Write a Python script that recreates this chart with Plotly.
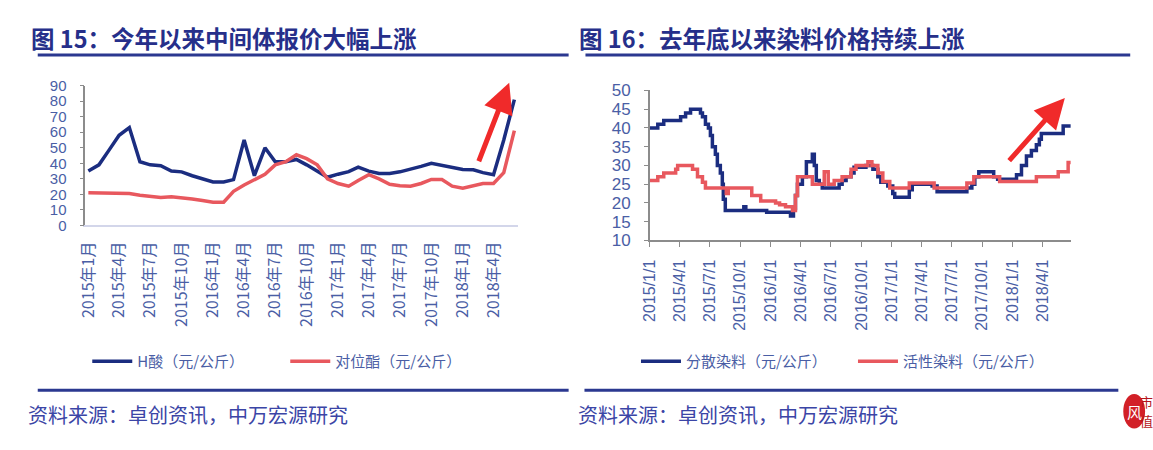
import plotly.graph_objects as go

W, H = 1153, 450
def px(x): return x / W
def py(y): return 1 - y / H

# ---------------- Data: left chart (monthly, 2015-01 .. 2018-06) ----------------
months = ["2015-01-01","2015-02-01","2015-03-01","2015-04-01","2015-05-01","2015-06-01",
          "2015-07-01","2015-08-01","2015-09-01","2015-10-01","2015-11-01","2015-12-01",
          "2016-01-01","2016-02-01","2016-03-01","2016-04-01","2016-05-01","2016-06-01",
          "2016-07-01","2016-08-01","2016-09-01","2016-10-01","2016-11-01","2016-12-01",
          "2017-01-01","2017-02-01","2017-03-01","2017-04-01","2017-05-01","2017-06-01",
          "2017-07-01","2017-08-01","2017-09-01","2017-10-01","2017-11-01","2017-12-01",
          "2018-01-01","2018-02-01","2018-03-01","2018-04-01","2018-05-01","2018-06-01"]
h_acid = [35, 39, 48, 58, 63, 41, 39, 38.5, 35, 34.5, 32, 30, 28, 28, 29.5, 55, 32, 50,
          41, 41, 42.5, 39, 35, 31, 33, 34.6, 37.5, 35, 33.5, 33.5, 34.5, 36, 38, 40,
          38.5, 37.5, 36, 35.8, 34, 32.7, 55, 81]
p_ester = [21, 21, 21, 20.8, 20.5, 19.5, 18.5, 18, 18.5, 18, 17, 16, 15, 15, 22, 26, 29.5, 33,
           39, 41, 45.5, 43, 39, 30, 27, 25.3, 29, 32.7, 30, 26.5, 25.5, 25.3, 27, 29.6,
           29.6, 25.3, 24, 25.5, 27, 27, 34, 61]
left_tickvals = ["2015-01-01","2015-04-01","2015-07-01","2015-10-01","2016-01-01","2016-04-01",
                 "2016-07-01","2016-10-01","2017-01-01","2017-04-01","2017-07-01","2017-10-01",
                 "2018-01-01","2018-04-01"]
left_ticktext = ["2015年1月","2015年4月","2015年7月","2015年10月","2016年1月","2016年4月",
                 "2016年7月","2016年10月","2017年1月","2017年4月","2017年7月","2017年10月",
                 "2018年1月","2018年4月"]

# ---------------- Data: right chart (step changes) ----------------
disperse_dates = ["2015-01-01","2015-01-25","2015-02-12","2015-04-04","2015-04-19","2015-05-04",
                  "2015-06-03","2015-06-09","2015-06-18","2015-06-27","2015-07-03","2015-07-09",
                  "2015-07-18","2015-07-24","2015-08-02","2015-08-08","2015-08-11","2015-08-17",
                  "2015-10-12","2015-10-18","2015-12-20","2016-03-01","2016-03-10","2016-03-16",
                  "2016-03-22","2016-04-06","2016-04-18","2016-05-06","2016-05-12","2016-05-18",
                  "2016-05-27","2016-06-05","2016-07-26","2016-08-04","2016-08-16","2016-08-31",
                  "2016-09-09","2016-10-15","2016-11-05","2016-11-20","2016-11-29","2016-12-20",
                  "2017-01-04","2017-01-10","2017-02-23","2017-03-04","2017-05-03","2017-05-18",
                  "2017-08-16","2017-08-31","2017-09-09","2017-09-21","2017-11-05","2017-11-17",
                  "2018-01-13","2018-01-28","2018-02-12","2018-02-27","2018-03-14","2018-03-23",
                  "2018-03-29","2018-06-03","2018-06-26"]
disperse_vals = [40, 41, 42, 43, 44, 45, 44, 43, 41, 40, 38, 35, 33, 30, 28, 25, 21, 18, 19, 18,
                 17.5, 16.5, 18.5, 22, 25, 27, 31, 33, 30, 26, 25, 24, 25, 26, 27, 28, 29.5, 30,
                 29, 27, 25.5, 24.5, 22.5, 21.5, 23.5, 25, 24.5, 23, 24, 25, 27, 28.3, 27, 26.3,
                 27.5, 30, 32.5, 34, 35.5, 37, 38.5, 40.5, 40.5]
reactive_dates = ["2015-01-01","2015-01-25","2015-02-12","2015-03-20","2015-03-26","2015-05-10",
                  "2015-05-25","2015-06-09","2015-06-18","2015-08-20","2015-08-26","2015-11-05",
                  "2015-12-02","2016-01-16","2016-01-28","2016-02-15","2016-03-07","2016-03-16",
                  "2016-03-22","2016-05-06","2016-06-11","2016-06-23","2016-07-11","2016-08-04",
                  "2016-08-31","2016-09-15","2016-10-21","2016-11-02","2016-11-20","2016-12-05",
                  "2016-12-26","2017-02-23","2017-05-09","2017-08-16","2017-09-06","2017-11-23",
                  "2018-03-14","2018-05-19","2018-06-18","2018-06-26"]
reactive_vals = [26, 27, 28, 29, 30, 29, 27, 25.5, 24, 22.5, 24, 22, 20.5, 20, 19.5, 19, 18, 22,
                 27, 25, 28.3, 25, 26, 27, 29, 30, 31, 30, 28, 25.7, 24, 25.3, 24, 25.3, 27,
                 25.7, 27, 28.3, 30.8, 30.8]
right_tickvals = ["2015-01-01","2015-04-01","2015-07-01","2015-10-01","2016-01-01","2016-04-01",
                  "2016-07-01","2016-10-01","2017-01-01","2017-04-01","2017-07-01","2017-10-01",
                  "2018-01-01","2018-04-01"]
right_ticktext = ["2015/1/1","2015/4/1","2015/7/1","2015/10/1","2016/1/1","2016/4/1",
                  "2016/7/1","2016/10/1","2017/1/1","2017/4/1","2017/7/1","2017/10/1",
                  "2018/1/1","2018/4/1"]

BLUE = "#1B2D80"
RED = "#E8585E"
TICK = "#4A5EA5"
NAVY = "#262F8A"
CJK = "Noto Sans CJK SC"

fig = go.Figure()
fig.add_trace(go.Scatter(x=months, y=h_acid, mode="lines", name="H酸（元/公斤）",
                         line=dict(color=BLUE, width=3.5), xaxis="x", yaxis="y", legend="legend"))
fig.add_trace(go.Scatter(x=months, y=p_ester, mode="lines", name="对位酯（元/公斤）",
                         line=dict(color=RED, width=3.5), xaxis="x", yaxis="y", legend="legend"))
fig.add_trace(go.Scatter(x=disperse_dates, y=disperse_vals, mode="lines", name="分散染料（元/公斤）",
                         line=dict(color=BLUE, width=3.5, shape="hv"), xaxis="x2", yaxis="y2",
                         legend="legend2"))
fig.add_trace(go.Scatter(x=reactive_dates, y=reactive_vals, mode="lines", name="活性染料（元/公斤）",
                         line=dict(color=RED, width=3.5, shape="hv"), xaxis="x2", yaxis="y2",
                         legend="legend2"))

tickfont_yl = dict(family="Liberation Sans", size=15, color=TICK)
tickfont_yr = dict(family="Liberation Sans", size=17, color=TICK)
tickfont_x = dict(family=CJK, size=16, color=TICK)

fig.update_layout(
    width=W, height=H, autosize=False,
    margin=dict(l=0, r=0, t=0, b=0),
    paper_bgcolor="white", plot_bgcolor="white",
    xaxis=dict(domain=[px(75), px(512)], type="date", range=["2014-12-23", "2018-06-12"],
               tickmode="array", tickvals=left_tickvals, ticktext=left_ticktext, tickangle=-90,
               tickfont=tickfont_x, showline=True, linecolor="#D3D6EA", linewidth=1.5,
               ticks="", showgrid=False, zeroline=False, anchor="y", ticklabelstandoff=8),
    yaxis=dict(domain=[py(226), py(80)], range=[0, 90], dtick=10, tickfont=tickfont_yl,
               showline=True, linecolor="#8C8C8C", linewidth=1.5, ticks="outside", ticklen=4,
               tickcolor="#8C8C8C", showgrid=False, zeroline=False, anchor="x",
               ticklabelstandoff=10),
    xaxis2=dict(domain=[px(645), px(1070)], type="date", range=["2015-01-01", "2018-06-26"],
                tickmode="array", tickvals=right_tickvals, ticktext=right_ticktext, tickangle=-90,
                tickfont=dict(family="Liberation Sans", size=16, color=TICK),
                showline=True, linecolor="#8C8C8C", linewidth=1.5, ticks="outside", ticklen=5,
                tickcolor="#8C8C8C", showgrid=False, zeroline=False, anchor="y2",
                ticklabelstandoff=6),
    yaxis2=dict(domain=[py(241.7), py(85)], range=[10, 50], dtick=5, tickfont=tickfont_yr,
                showline=True, linecolor="#8C8C8C", linewidth=1.5, ticks="outside", ticklen=4,
                tickcolor="#8C8C8C", showgrid=False, zeroline=False, anchor="x2",
                ticklabelstandoff=10),
    legend=dict(orientation="h", x=px(77), y=py(368), xanchor="left", yanchor="middle",
                font=dict(family=CJK, size=15, color=TICK), bgcolor="rgba(0,0,0,0)",
                entrywidth=143, entrywidthmode="pixels", itemwidth=40),
    legend2=dict(orientation="h", x=px(631), y=py(368), xanchor="left", yanchor="middle",
                 font=dict(family=CJK, size=15, color=TICK), bgcolor="rgba(0,0,0,0)",
                 entrywidth=162, entrywidthmode="pixels", itemwidth=40),
    showlegend=True,
)

annotations = [
    dict(text="<b>图 15：今年以来中间体报价大幅上涨</b>", xref="paper", yref="paper",
         x=px(18), y=py(30), xanchor="left", yanchor="middle", showarrow=False,
         font=dict(family=CJK, size=23.5, color=NAVY)),
    dict(text="<b>图 16：去年底以来染料价格持续上涨</b>", xref="paper", yref="paper",
         x=px(571), y=py(30), xanchor="left", yanchor="middle", showarrow=False,
         font=dict(family=CJK, size=23.5, color=NAVY)),
    dict(text="资料来源：卓创资讯，中万宏源研究", xref="paper", yref="paper",
         x=px(15), y=py(423), xanchor="left", yanchor="middle", showarrow=False,
         font=dict(family=CJK, size=20, color="#3B45A6")),
    dict(text="资料来源：卓创资讯，中万宏源研究", xref="paper", yref="paper",
         x=px(570), y=py(423), xanchor="left", yanchor="middle", showarrow=False,
         font=dict(family=CJK, size=20, color="#3B45A6")),
    # red arrows
    dict(text="", xref="paper", yref="paper", x=px(503), y=py(77), ax=-31, ay=80,
         showarrow=True, arrowhead=2, arrowsize=1.2, arrowwidth=5, arrowcolor="#F02A2A",
         standoff=0, startstandoff=0),
    dict(text="", xref="paper", yref="paper", x=px(1064), y=py(93), ax=-57, ay=64,
         showarrow=True, arrowhead=2, arrowsize=1.2, arrowwidth=5, arrowcolor="#F02A2A",
         standoff=0, startstandoff=0),
    # logo glyphs
    dict(text="风", xref="paper", yref="paper", x=px(1134), y=py(420), showarrow=False,
         xanchor="center", yanchor="middle", font=dict(family=CJK, size=15, color="white")),
    dict(text="市", xref="paper", yref="paper", x=px(1146), y=py(410), showarrow=False,
         xanchor="center", yanchor="middle", font=dict(family=CJK, size=13, color="#B5141B")),
    dict(text="值", xref="paper", yref="paper", x=px(1146), y=py(430), showarrow=False,
         xanchor="center", yanchor="middle", font=dict(family=CJK, size=13, color="#B5141B")),
]
fig.update_layout(annotations=annotations)

shapes = [
    dict(type="line", xref="paper", yref="paper", x0=px(27), x1=px(563), y0=py(48), y1=py(48),
         line=dict(color="#2B3890", width=3)),
    dict(type="line", xref="paper", yref="paper", x0=px(580), x1=px(1130), y0=py(48), y1=py(48),
         line=dict(color="#2B3890", width=3)),
    dict(type="line", xref="paper", yref="paper", x0=px(27), x1=px(563), y0=py(398), y1=py(398),
         line=dict(color="#2B3890", width=3)),
    dict(type="line", xref="paper", yref="paper", x0=px(579), x1=px(1118), y0=py(398), y1=py(398),
         line=dict(color="#2B3890", width=3)),
    dict(type="circle", xref="paper", yref="paper", x0=px(1123), x1=px(1145), y0=py(438),
         y1=py(402), fillcolor="#D22027", line=dict(width=0), layer="below"),
]
fig.update_layout(shapes=shapes)

fig.write_html("out.html")
